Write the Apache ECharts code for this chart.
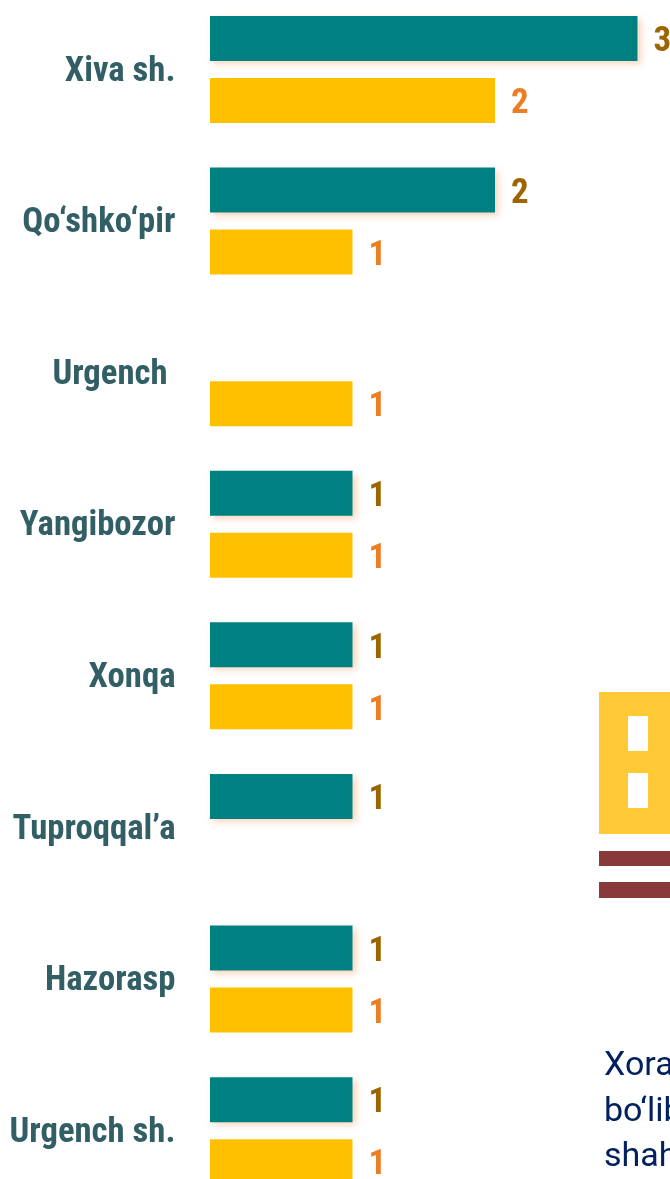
<!DOCTYPE html>
<html><head><meta charset="utf-8">
<style>html,body{margin:0;padding:0;background:#fff}#c{width:670px;height:1179px}</style>
<script src="https://cdn.jsdelivr.net/npm/echarts@6/dist/echarts.min.js"></script>
</head><body><div id="c"></div>
<script>
const categories = ['Xiva sh.','Qo‘shko‘pir','Urgench ','Yangibozor','Xonqa','Tuproqqal’a','Hazorasp','Urgench sh.'];
const tealValues = [3,2,null,1,1,1,1,1];
const goldValues = [2,1,1,1,1,null,1,1];
const sideTextLines = ['Xorazm','bo‘lib','shahar'];
const FONT = '"Liberation Sans Narrow","Roboto Condensed",Roboto,sans-serif';
const chart = echarts.init(document.getElementById('c'),null,{renderer:'canvas'});
chart.setOption({
  animation:false,
  backgroundColor:'#fff',
  grid:{left:210,width:427.5,top:-6.35,height:1212.8,containLabel:false,outerBoundsMode:'none'},
  xAxis:{type:'value',min:0,max:3,show:false},
  yAxis:{type:'category',inverse:true,data:categories,
    axisLine:{show:false},axisTick:{show:false},
    axisLabel:{margin:34.5,formatter:'{a|{value}}',
      rich:{a:{fontFamily:FONT,fontWeight:'bold',fontSize:34.7,color:'#325F66',padding:[5,0,0,0]}}}},
  series:[
    {type:'bar',data:tealValues,barWidth:45,barGap:'37.8%',
     itemStyle:{color:'#008080',shadowColor:'rgba(237,125,49,0.35)',shadowBlur:7,shadowOffsetX:3,shadowOffsetY:3},
     label:{show:true,position:'right',distance:16,offset:[0,4],fontFamily:FONT,fontWeight:'bold',fontSize:35,color:'#9C6500'}},
    {type:'bar',data:goldValues,barWidth:45,
     itemStyle:{color:'#FFC000'},
     label:{show:true,position:'right',distance:16,offset:[0,4],fontFamily:FONT,fontWeight:'bold',fontSize:35,color:'#ED7D23'}}
  ],
  graphic:[
    {type:'rect',shape:{x:599,y:692,width:71,height:142},style:{fill:'#FFC835'}},
    {type:'rect',shape:{x:628,y:716,width:20,height:35},style:{fill:'#fff'}},
    {type:'rect',shape:{x:628,y:773,width:20,height:35},style:{fill:'#fff'}},
    {type:'rect',shape:{x:599,y:851,width:71,height:15},style:{fill:'#8A393B'}},
    {type:'rect',shape:{x:599,y:882,width:71,height:16},style:{fill:'#8A393B'}},
    ...sideTextLines.map((t,i)=>({type:'text',x:604,y:1066.5+i*45.5,
      style:{text:t,fontFamily:'Roboto',fontSize:34,fill:'#002060',textVerticalAlign:'middle'}}))
  ]
});
</script></body></html>
